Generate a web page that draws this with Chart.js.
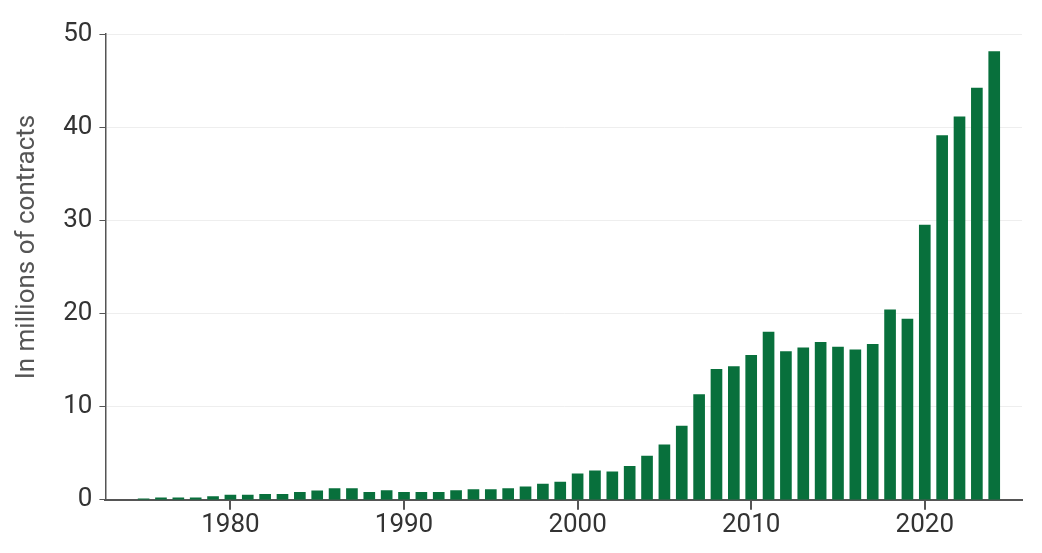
<!DOCTYPE html>
<html>
<head>
<meta charset="utf-8">
<script src="https://cdn.jsdelivr.net/npm/chart.js@4"></script>
<style>
  html, body { margin: 0; padding: 0; background: #fff; }
  #wrap { width: 1042px; height: 553px; }
</style>
</head>
<body>
<div id="wrap"><canvas id="chart" width="1042" height="553"></canvas></div>
<script>
// Contracts per year, in millions
const years = [
  1975, 1976, 1977, 1978, 1979, 1980, 1981, 1982, 1983, 1984,
  1985, 1986, 1987, 1988, 1989, 1990, 1991, 1992, 1993, 1994,
  1995, 1996, 1997, 1998, 1999, 2000, 2001, 2002, 2003, 2004,
  2005, 2006, 2007, 2008, 2009, 2010, 2011, 2012, 2013, 2014,
  2015, 2016, 2017, 2018, 2019, 2020, 2021, 2022, 2023, 2024
];
const contracts = [
  0.1, 0.2, 0.2, 0.2, 0.35, 0.5, 0.5, 0.6, 0.6, 0.8,
  0.95, 1.2, 1.2, 0.8, 1.0, 0.8, 0.8, 0.8, 1.0, 1.1,
  1.1, 1.2, 1.4, 1.7, 1.9, 2.8, 3.1, 3.0, 3.6, 4.7,
  5.9, 7.9, 11.3, 14.0, 14.3, 15.5, 18.0, 15.9, 16.3, 16.9,
  16.4, 16.1, 16.7, 20.4, 19.4, 29.5, 39.1, 41.1, 44.2, 48.1
];
const yearTicks = [1980, 1990, 2000, 2010, 2020];
const valueTicks = [0, 10, 20, 30, 40, 50];

// small tick marks under the x axis, placed with the x scale
const xTickMarks = {
  id: 'xTickMarks',
  afterDraw(chart) {
    const { ctx, chartArea, scales } = chart;
    ctx.save();
    ctx.strokeStyle = '#555';
    ctx.lineWidth = 2;
    yearTicks.forEach(v => {
      const x = Math.round(scales.x.getPixelForValue(v));
      ctx.beginPath();
      ctx.moveTo(x, chartArea.bottom);
      ctx.lineTo(x, chartArea.bottom + 10);
      ctx.stroke();
    });
    ctx.restore();
  }
};

const ctx = document.getElementById('chart').getContext('2d');

new Chart(ctx, {
  type: 'bar',
  data: {
    datasets: [{
      data: years.map((y, i) => ({ x: y, y: contracts[i] })),
      backgroundColor: '#08703c',
      borderWidth: 0,
      barThickness: 11
    }]
  },
  options: {
    responsive: false,
    animation: false,
    layout: { padding: { top: 34, right: 20, bottom: 2, left: 12 } },
    plugins: {
      legend: { display: false },
      tooltip: { enabled: false }
    },
    scales: {
      x: {
        type: 'linear',
        offset: false,
        min: 1972.8,
        max: 2025.6,
        afterBuildTicks: axis => {
          axis.ticks = yearTicks.map(v => ({ value: v }));
        },
        ticks: {
          color: '#333',
          font: { family: 'Roboto', size: 26 },
          padding: 10,
          maxRotation: 0,
          autoSkip: false,
          callback: v => String(v)
        },
        grid: { display: false, drawTicks: false, offset: false },
        border: { display: true, color: '#555', width: 2 }
      },
      y: {
        min: 0,
        max: 50,
        afterBuildTicks: axis => {
          axis.ticks = valueTicks.map(v => ({ value: v }));
        },
        ticks: {
          color: '#333',
          font: { family: 'Roboto', size: 26 },
          padding: 7
        },
        grid: {
          color: '#eeeeee',
          lineWidth: 1,
          drawTicks: true,
          tickLength: 6,
          tickColor: '#555'
        },
        border: { color: '#555', width: 1.5 },
        title: {
          display: true,
          text: '\u2002\u2002\u2002In millions of contracts',
          color: '#555',
          font: { family: 'Roboto', size: 26 },
          padding: { top: 0, bottom: 13 }
        }
      }
    }
  },
  plugins: [xTickMarks]
});
</script>
</body>
</html>
